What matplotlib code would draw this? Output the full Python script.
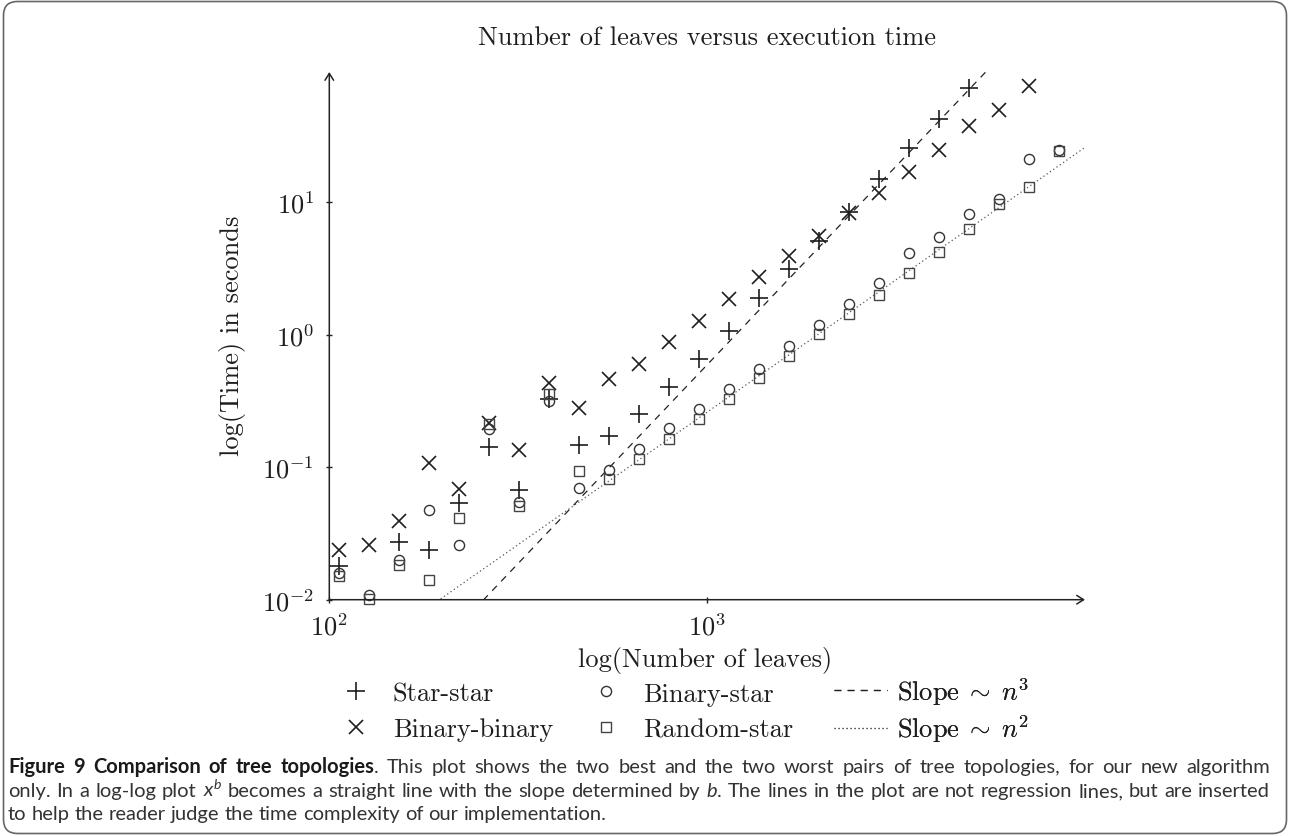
import numpy as np
import matplotlib
matplotlib.use('Agg')
import matplotlib.pyplot as plt
from matplotlib.patches import FancyBboxPatch
from matplotlib.ticker import NullLocator
from matplotlib.transforms import IdentityTransform

plt.rcParams['mathtext.fontset'] = 'cm'
plt.rcParams['mathtext.rm'] = 'Lato'
plt.rcParams['mathtext.it'] = 'Lato:italic'
plt.rcParams['mathtext.bf'] = 'Lato:bold'

# number of leaves, shared by all series
leaves = [106, 127, 153, 184, 220, 265, 318, 382, 458, 550, 660, 793, 951,
          1142, 1371, 1646, 1976, 2372, 2848, 3419, 4104, 4927, 5916, 7101, 8525]
nan = np.nan
# execution time in seconds
star_star = [0.0179, nan, 0.0274, 0.0237, 0.0533, 0.141, 0.0673, 0.330, 0.147,
             0.172, 0.251, 0.406, 0.655, 1.07, 1.88, 3.13, 5.13, 8.40, 15.0,
             25.6, 42.6, 72.8, nan, nan, nan]
binary_binary = [0.0239, 0.0258, 0.0392, 0.107, 0.0691, 0.217, 0.136, 0.435,
                 0.282, 0.461, 0.600, 0.875, 1.27, 1.86, 2.71, 3.91, 5.60,
                 8.30, 11.7, 17.0, 25.0, 37.9, 50.1, 76.0, nan]
binary_star = [0.0160, 0.0109, 0.0198, 0.0475, 0.0258, 0.196, 0.0549, 0.317,
               0.0692, 0.0948, 0.138, 0.199, 0.274, 0.388, 0.549, 0.817, 1.18,
               1.70, 2.45, 4.14, 5.43, 8.16, 10.6, 21.2, 25.0]
random_star = [0.0152, 0.0102, 0.0182, 0.0141, 0.0416, 0.211, 0.0509, 0.360,
               0.0935, 0.0810, 0.115, 0.163, 0.233, 0.326, 0.475, 0.686, 1.01,
               1.43, 1.99, 2.93, 4.23, 6.29, 9.70, 13.0, 24.5]
# reference lines y = 10**c * n**p
slope3_logc = -9.225
slope2_logc = -6.583

W, H = 1290, 837
fig = plt.figure(figsize=(W / 100, H / 100), dpi=100)
ax = fig.add_axes([329.3 / W, 1 - 600.7 / H, (1085 - 329.3) / W, (600.7 - 73) / H])
ax.set_xscale('log')
ax.set_yscale('log')
ax.patch.set_visible(False)

n = np.array([100.0, 10000.0])
l3, = ax.plot(n, 10 ** slope3_logc * n ** 3, ls=(0, (5.5, 5)), color='#222222', lw=0.9)
l2, = ax.plot(n, 10 ** slope2_logc * n ** 2, ls=(0, (1, 2.2)), color='#555555', lw=0.9)

pss, = ax.plot(leaves, star_star, ls='none', marker='+', ms=13, mew=1.2,
               color='#1e1e1e', clip_on=False)
pbb, = ax.plot(leaves, binary_binary, ls='none', marker='x', ms=9.6, mew=1.2,
               color='#1e1e1e', clip_on=False)
pbs, = ax.plot(leaves, binary_star, ls='none', marker='o', ms=7.3, mew=1.0,
               mfc='none', color='#333333', clip_on=False)
prs, = ax.plot(leaves, random_star, ls='none', marker='s', ms=7.0, mew=1.0,
               mfc='none', color='#444444', clip_on=False)

ax.set_xlim(100, 10 ** 3.999)
ax.set_ylim(0.01, 10 ** 1.984)
for s in ax.spines.values():
    s.set_visible(False)
arrow = dict(arrowstyle='->,head_length=0.35,head_width=0.22', lw=1.1,
             color='#222222', shrinkA=0, shrinkB=0, mutation_scale=14)
ax.annotate('', xy=(1, 0), xytext=(0, 0), xycoords='axes fraction', arrowprops=arrow)
ax.annotate('', xy=(0, 1), xytext=(0, 0), xycoords='axes fraction', arrowprops=arrow)

ax.set_xticks([100, 1000])
ax.set_xticklabels([r'$10^{2}$', r'$10^{3}$'])
ax.set_yticks([0.01, 0.1, 1, 10])
ax.set_yticklabels([r'$10^{-2}$', r'$10^{-1}$', r'$10^{0}$', r'$10^{1}$'])
ax.xaxis.set_minor_locator(NullLocator())
ax.yaxis.set_minor_locator(NullLocator())
ax.tick_params(direction='inout', length=5, width=1, color='#222222',
               labelsize=19, labelcolor='#1e1e1e')
ax.tick_params(axis='x', pad=7.5)
ax.tick_params(axis='y', pad=8.5)

tfont = dict(family='cmr10', size=19, color='#1e1e1e')
fig.text(707 / W, 1 - 45 / H, 'Number of leaves versus execution time',
         ha='center', va='baseline', **tfont)
fig.text(705.6 / W, 1 - 667 / H, 'log(Number of leaves)', ha='center',
         va='baseline', **tfont)
fig.text(232 / W, 1 - 336 / H, 'log(Time) in seconds', rotation=90,
         ha='center', va='center', **tfont)

# legend: three columns
lprop = dict(family='cmr10', size=19)
cols = [([pss, pbb], ['Star-star', 'Binary-binary'], 330, 683, 0.45),
        ([pbs, prs], ['Binary-star', 'Random-star'], 580, 683, 0.45),
        ([l3, l2], [r'$\mathrm{Slope}\;\sim\;n^3$', r'$\mathrm{Slope}\;\sim\;n^2$'],
         834, 676, 0.22)]
for handles, labels, x0, y0, spacing in cols:
    leg = ax.legend(handles, labels, loc='upper left',
                    bbox_to_anchor=(x0 / W, 1 - y0 / H),
                    bbox_transform=fig.transFigure, frameon=False, prop=lprop,
                    handlelength=2.0, handletextpad=0.38, borderpad=0,
                    borderaxespad=0, labelspacing=spacing, numpoints=1)
    for t in leg.get_texts():
        t.set_color('#1e1e1e')
    ax.add_artist(leg)

# caption, justified like the journal layout
renderer = fig.canvas.get_renderer()
cap_left, cap_right = 8, 1270
line2_natural = 1240


def cap_text(s, bold, size, x=0, y=0):
    return fig.text(x / W, y, s, family='Lato', size=size,
                    weight='bold' if bold else 'normal',
                    color='#1a1a1a' if bold else '#333333', ha='left',
                    va='baseline', math_fontfamily='custom')


line1 = [[(w, True)] for w in 'Figure 9 Comparison of tree topologies'.split()]
line1[-1].append(('.', False))
line1 += [[(w, False)] for w in ('This plot shows the two best and the two worst '
                                'pairs of tree topologies, for our new algorithm').split()]
line2_str = (r'only. In a log-log plot $x^b$ becomes a straight line with the slope '
             r'determined by $b$. The lines in the plot are not regression lines, '
             r'but are inserted')
line2 = [[(w, False)] for w in line2_str.split()]
line3 = [[(w, False)] for w in ('to help the reader judge the time complexity '
                                'of our implementation.').split()]

probe = cap_text(line2_str, False, 10)
cap_size = 10 * line2_natural / probe.get_window_extent(renderer).width
probe.remove()
sp = cap_text('a a', False, cap_size)
sp2 = cap_text('aa', False, cap_size)
space = sp.get_window_extent(renderer).width - sp2.get_window_extent(renderer).width
sp.remove()
sp2.remove()


def place_line(words, base_px, justify):
    y = 1 - base_px / H
    arts = []
    widths = []
    for word in words:
        parts = []
        wsum = 0
        for s, b in word:
            t = cap_text(s, b, cap_size, 0, y)
            wsum += t.get_window_extent(renderer).width
            parts.append(t)
        arts.append(parts)
        widths.append(wsum)
    gap = space
    if justify:
        gap = (cap_right - cap_left - sum(widths)) / (len(words) - 1)
    x = cap_left
    for parts in arts:
        for t in parts:
            t.set_x(x / W)
            x += t.get_window_extent(renderer).width
        x += gap


place_line(line1, 773, True)
place_line(line2, 797, True)
place_line(line3, 820, False)

border = FancyBboxPatch((3.5, 2.5), W - 7, H - 5,
                        boxstyle='round,pad=0,rounding_size=14',
                        transform=IdentityTransform(), fill=False,
                        edgecolor='#666666', lw=1.2)
fig.patches.append(border)

fig.savefig('out.png', dpi=100)
